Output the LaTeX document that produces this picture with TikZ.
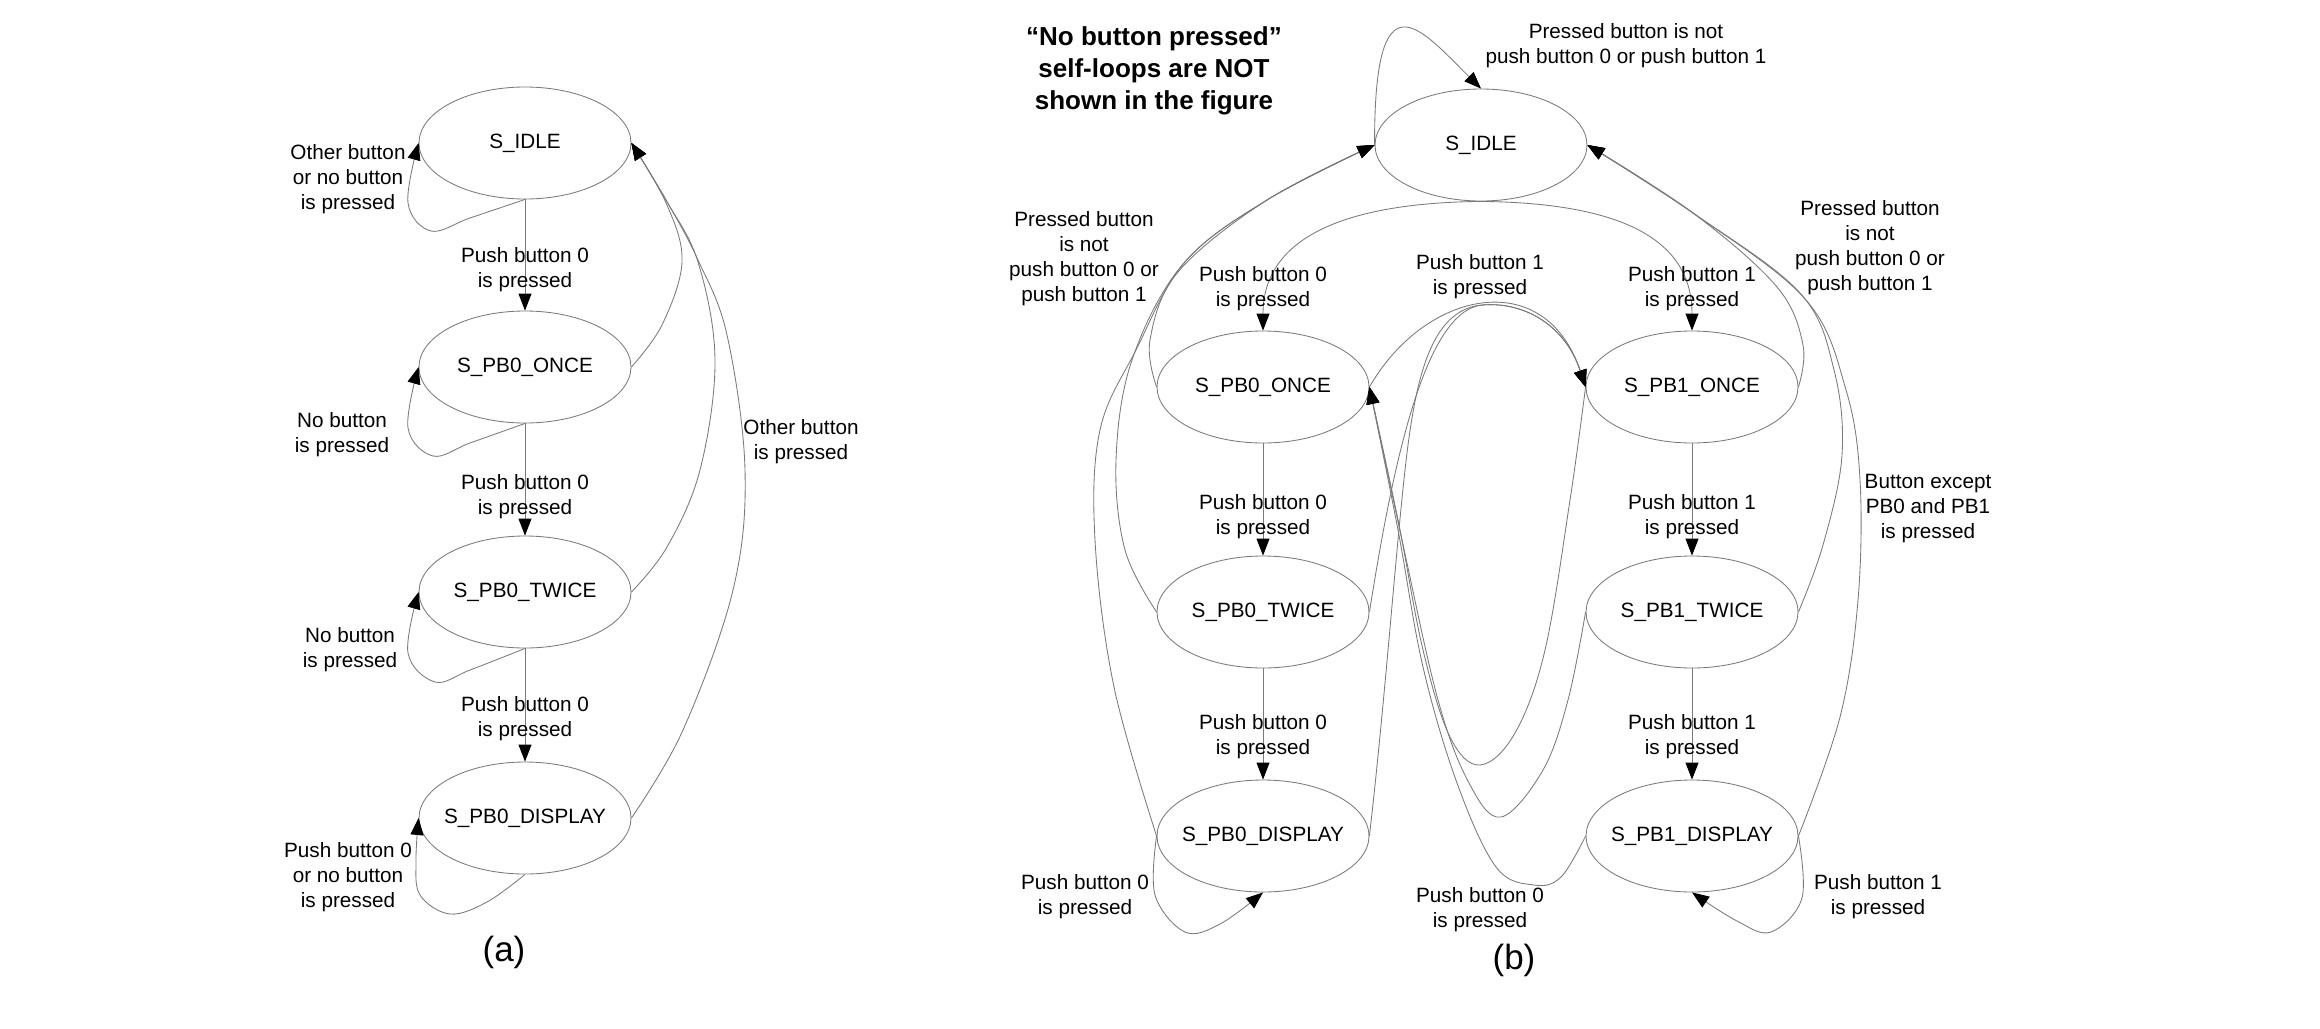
\documentclass[tikz,border=0pt]{standalone}
\usepackage{fontspec}
\setmainfont{Liberation Sans}
\usetikzlibrary{shapes.geometric,arrows.meta}
\begin{document}
\begin{tikzpicture}[x=1pt,y=-1pt,
  state/.style={draw=black!52, line width=0.85pt, ellipse, minimum width=212pt, minimum height=112pt, inner sep=0pt, font=\fontsize{20.7}{25}\selectfont},
  lbl/.style={align=center, font=\fontsize{20.7}{25}\selectfont, inner sep=0pt},
  edge/.style={draw=black!52, line width=0.85pt},
  arr/.style={edge, -{Triangle[length=17pt,width=13pt,color=black]}},
]
\useasboundingbox (0,0) rectangle (2320,1028);
\fill[white] (0,0) rectangle (2320,1028);

% ---------------- panel (a) ----------------
\node[state] (aidle) at (525,143) {\makebox[0pt]{S\_IDLE}};
\node[state] (aonce) at (525,367) {\makebox[0pt]{S\_PB0\_ONCE}};
\node[state] (atwice) at (525,592) {\makebox[0pt]{S\_PB0\_TWICE}};
\node[state] (adisp) at (525,818) {\makebox[0pt]{S\_PB0\_DISPLAY}};

\draw[arr] (aidle.south) -- (aonce.north);
\draw[arr] (aonce.south) -- (atwice.north);
\draw[arr] (atwice.south) -- (adisp.north);

\node[lbl] (la1) at (525,270) {Push button 0\\is pressed};
\node[lbl] (la2) at (525,497) {Push button 0\\is pressed};
\node[lbl] (la3) at (525,719) {Push button 0\\is pressed};

% self loops
\draw[arr] plot[smooth, tension=0.6] coordinates {(aidle.south) (470,218) (431,231) (408,203) (aidle.west)};
\draw[arr] plot[smooth, tension=0.6] coordinates {(aonce.south) (470,443) (433,456) (408,428) (aonce.west)};
\draw[arr] plot[smooth, tension=0.6] coordinates {(atwice.south) (470,670) (435,682) (408,653) (atwice.west)};
\draw[arr] plot[smooth, tension=0.6] coordinates {(adisp.south) (487,902) (450,914) (420,895) (416,860) (adisp.west)};

\node[lbl] (lal1) at (348,179) {Other button\\or no button\\is pressed};
\node[lbl] (lal2) at (342,435) {No button\\is pressed};
\node[lbl] (lal3) at (350,650) {No button\\is pressed};
\node[lbl] (lal4) at (348,877) {Push button 0\\or no button\\is pressed};

% back to idle
\draw[arr] plot[smooth, tension=0.6] coordinates {(aonce.east) (662,325) (682,262) (667,205) (aidle.east)};
\draw[arr] plot[smooth, tension=0.6] coordinates {(atwice.east) (667,547) (700,470) (715,360) (698,262) (666,200) (aidle.east)};
\draw[arr] plot[smooth, tension=0.6] coordinates {(adisp.east) (683,730) (733,590) (745,470) (727,335) (698,260) (666,200) (aidle.east)};
\node[lbl] (laother) at (801,442) {Other button\\is pressed};

\node[font=\fontsize{35}{40}\selectfont, inner sep=0pt] (capa) at (504,952) {(a)};

% ---------------- panel (b) ----------------
\node[state] (idle) at (1481,145) {\makebox[0pt]{S\_IDLE}};
\node[state] (p0o) at (1263,387) {\makebox[0pt]{S\_PB0\_ONCE}};
\node[state] (p1o) at (1692,387) {\makebox[0pt]{S\_PB1\_ONCE}};
\node[state] (p0t) at (1263,612) {\makebox[0pt]{S\_PB0\_TWICE}};
\node[state] (p1t) at (1692,612) {\makebox[0pt]{S\_PB1\_TWICE}};
\node[state] (p0d) at (1263,836) {\makebox[0pt]{S\_PB0\_DISPLAY}};
\node[state] (p1d) at (1692,836) {\makebox[0pt]{S\_PB1\_DISPLAY}};

\node[font=\bfseries\fontsize{26}{32}\selectfont, align=center, inner sep=0pt] (head) at (1154,71)
  {“No button pressed”\\self-loops are NOT\\shown in the figure};

% straight
\draw[arr] (p0o.south) -- (p0t.north);
\draw[arr] (p0t.south) -- (p0d.north);
\draw[arr] (p1o.south) -- (p1t.north);
\draw[arr] (p1t.south) -- (p1d.north);

% idle self loop
\draw[arr] (idle.west) .. controls (1374,-30) and (1420,28) .. (idle.north);

% idle to once
\draw[arr] (idle.south) .. controls (1330,203) and (1263,245) .. (p0o.north);
\draw[arr] (idle.south) .. controls (1632,203) and (1692,245) .. (p1o.north);

% PB0 states back to idle
\draw[arr] plot[smooth, tension=0.6] coordinates {(p0o.west) (1150,340) (1178,272) (1267,200) (idle.west)};
\draw[arr] plot[smooth, tension=0.6] coordinates {(p0t.west) (1125,550) (1116,460) (1132,360) (1183,264) (1267,200) (idle.west)};
\draw[arr] plot[smooth, tension=0.6] coordinates {(p0d.west) (1114,687) (1095,540) (1100,430) (1136,350) (1185,262) (1267,200) (idle.west)};

% PB1 states back to idle
\draw[arr] plot[smooth, tension=0.6] coordinates {(p1o.east) (1803,345) (1777,287) (1693,213) (idle.east)};
\draw[arr] plot[smooth, tension=0.6] coordinates {(p1t.east) (1823,545) (1842,455) (1834,370) (1800,293) (1693,213) (idle.east)};
\draw[arr] plot[smooth, tension=0.6] coordinates {(p1d.east) (1840,717) (1858,600) (1860,480) (1846,390) (1806,300) (1693,213) (idle.east)};

% PB0 states to PB1_ONCE
\coordinate (pk) at (1483.1,304.9);
\draw[arr] (p0o.east) .. controls (1425,290) and (1545,265) .. (p1o.west);
\draw[arr] (p0t.east) .. controls (1392,470) and (1424,309.3) .. (pk)
  .. controls (1525.25,301.75) and (1565.5,326) .. (p1o.west);
\draw[arr] (p0d.east) .. controls (1385,700) and (1395,560) .. (1405,470)
  .. controls (1415,380) and (1430,308.8) .. (pk)
  .. controls (1525.25,301.75) and (1565.5,326) .. (p1o.west);

% PB1 states to PB0_ONCE
\draw[arr] plot[smooth, tension=0.6] coordinates {(p1o.west) (1570,500) (1545,650) (1515,733) (1480,765) (1450,737) (1423,650) (1398,520) (p0o.east)};
\draw[arr] plot[smooth, tension=0.6] coordinates {(p1t.west) (1568,700) (1543,770) (1501,817) (1469,783) (1438,700) (1402,540) (p0o.east)};
\draw[arr] plot[smooth, tension=0.6] coordinates {(p1d.west) (1561,877) (1534,885) (1496,867) (1457,783) (1423,667) (1398,530) (p0o.east)};

% display loops
\draw[arr] plot[smooth, tension=0.6] coordinates {(p0d.west) (1155,895) (1185,932) (1220,924) (p0d.south)};
\draw[arr] plot[smooth, tension=0.6] coordinates {(p1d.east) (1802,898) (1771,932) (1737,921) (p1d.south)};

% labels
\node[lbl] (lb1) at (1263,289) {Push button 0\\is pressed};
\node[lbl] (lb2) at (1692,289) {Push button 1\\is pressed};
\node[lbl] (lb3) at (1480,277) {Push button 1\\is pressed};
\node[lbl] (lb4) at (1263,517) {Push button 0\\is pressed};
\node[lbl] (lb5) at (1263,737) {Push button 0\\is pressed};
\node[lbl] (lb6) at (1692,517) {Push button 1\\is pressed};
\node[lbl] (lb7) at (1692,737) {Push button 1\\is pressed};
\node[lbl] (lb8) at (1084,259) {Pressed button\\is not\\push button 0 or\\push button 1};
\node[lbl] (lb9) at (1870,248) {Pressed button\\is not\\push button 0 or\\push button 1};
\node[lbl] (lb10) at (1928,509) {Button except\\PB0 and PB1\\is pressed};
\node[lbl] (lb11) at (1626,46) {Pressed button is not\\push button 0 or push button 1};
\node[lbl] (lb12) at (1085,897) {Push button 0\\is pressed};
\node[lbl] (lb13) at (1878,897) {Push button 1\\is pressed};
\node[lbl] (lb14) at (1480,910) {Push button 0\\is pressed};

\node[font=\fontsize{35}{40}\selectfont, inner sep=0pt] (capb) at (1514,960) {(b)};
\end{tikzpicture}
\end{document}
